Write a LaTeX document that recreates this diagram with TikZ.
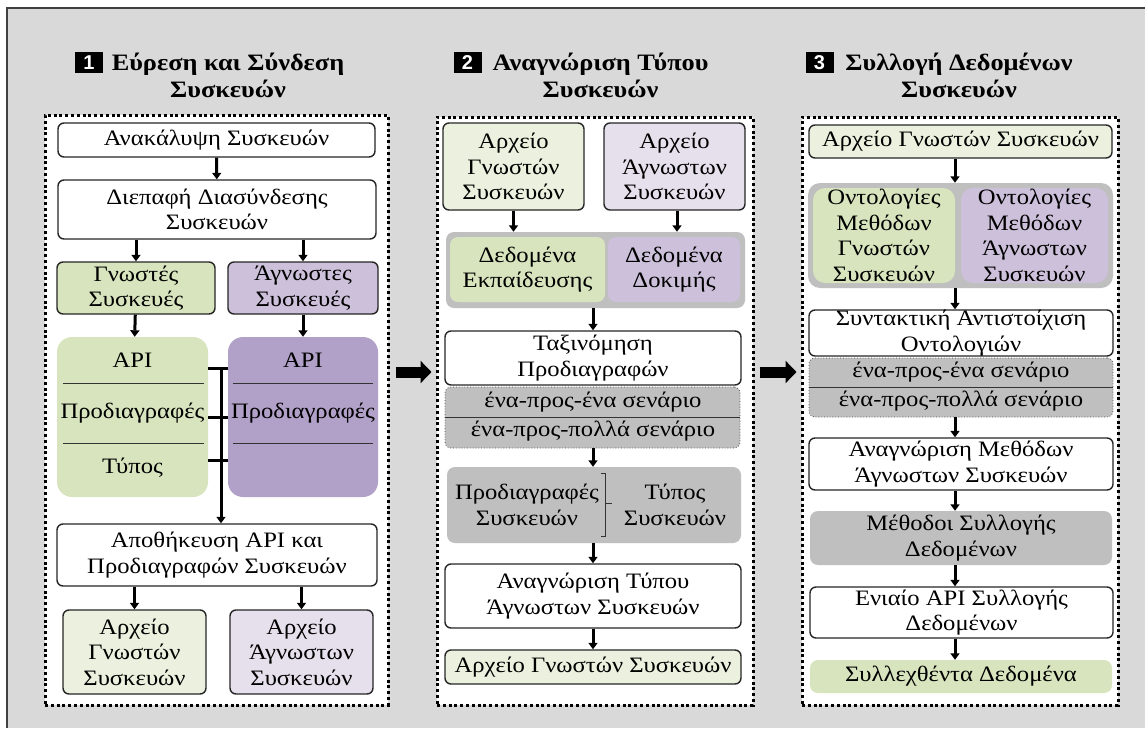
\documentclass[tikz,border=0pt]{standalone}
\usepackage{fontspec}
\setmainfont{Liberation Serif}[FakeStretch=1.12]
\newfontfamily\numfont{Liberation Sans}
\usetikzlibrary{arrows.meta}
\definecolor{bgray}{HTML}{D9D9D9}
\definecolor{kgreen}{HTML}{D7E4BD}
\definecolor{upurple}{HTML}{CCC0DA}
\definecolor{dpurple}{HTML}{B1A0C7}
\definecolor{lgreen}{HTML}{EBF1DE}
\definecolor{lpurple}{HTML}{E6E0EC}
\definecolor{mgray}{HTML}{BFBFBF}
\definecolor{edge}{HTML}{262626}
\newcommand\bodyfont{\fontsize{22}{25.5}\selectfont}
\newcommand\titlefont{\fontsize{23.5}{27}\selectfont\bfseries}
\tikzset{
  sz/.style 2 args={minimum width=#1, minimum height=#2},
  txt/.style={align=center, inner sep=0pt, font=\bodyfont, text=black},
  box/.style={txt, draw=edge, line width=1.4pt, rounded corners=6pt, fill=white},
  kbox/.style={box, fill=kgreen},
  ubox/.style={box, fill=upurple},
  kfile/.style={box, fill=lgreen},
  ufile/.style={box, fill=lpurple},
  blob/.style={txt, rounded corners=15pt, draw=none},
  soft/.style={txt, rounded corners=8pt, draw=none},
  scen/.style={txt, fill=mgray, draw=black!70, line width=0.8pt, dotted, rounded corners=6pt},
  frame/.style={draw=black, fill=white, line width=3pt, dash pattern=on 3pt off 2.8pt},
  arr/.style={line width=3pt, draw=black, -{Triangle[width=9pt,length=6.5pt]}},
  bigarr/.style={line width=11pt, draw=black, -{Triangle[width=22pt,length=11pt]}},
  sep/.style={line width=0.9pt, draw=black!80},
  brk/.style={line width=3pt, draw=black},
  thinbrk/.style={line width=0.9pt, draw=black!80},
  title/.style={align=center, inner sep=0pt, font=\titlefont, text=black},
  num/.style={fill=black, text=white, inner sep=0pt, minimum width=28pt, minimum height=21pt, font=\numfont\fontsize{20}{21}\selectfont\bfseries}
}
\begin{document}
\begin{tikzpicture}[x=1pt, y=-1pt]
\useasboundingbox (0,0) rectangle (1145,728);
\fill[white] (0,0) rectangle (1145,728);
\fill[bgray] (7,8) rectangle (1145,728);
\draw[line width=1.6pt, black!75] (7,728) -- (7,8) -- (1145,8);

% ---------- column frames ----------
\node[frame, sz={343pt}{590pt}] (frame1) at (216.5,410) {};
\node[frame, sz={316pt}{588pt}] (frame2) at (595,411) {};
\node[frame, sz={316pt}{588pt}] (frame3) at (960,411) {};

% ---------- titles ----------
\node[title] (t1) at (228,75) {Εύρεση και Σύνδεση\\Συσκευών};
\node[num] (n1) at (89,62.5) {1};
\node[title] (t2) at (600.5,75) {Αναγνώριση Τύπου\\Συσκευών};
\node[num] (n2) at (467.5,62.5) {2};
\node[title] (t3) at (959,75) {Συλλογή Δεδομένων\\Συσκευών};
\node[num] (n3) at (819.5,62.5) {3};

% ---------- column 1: discovery and connection ----------
\node[box, sz={317pt}{34pt}] (disc) at (216.5,140) {Ανακάλυψη Συσκευών};
\node[box, sz={318pt}{59pt}] (iface) at (217,209.5) {Διεπαφή Διασύνδεσης\\Συσκευών};
\node[kbox, sz={158pt}{52pt}] (known) at (136,288) {Γνωστές\\Συσκευές};
\node[ubox, sz={150pt}{52pt}] (unknown) at (303,288) {Άγνωστες\\Συσκευές};
\node[blob, fill=kgreen, sz={151pt}{160pt}] (apiK) at (132.5,417) {};
\node[blob, fill=dpurple, sz={150pt}{160pt}] (apiU) at (303,417) {};
\node[txt] (apiKa) at (132.5,360) {API};
\node[txt] (apiKs) at (132.5,413) {Προδιαγραφές};
\node[txt] (apiKt) at (132.5,468) {Τύπος};
\node[txt] (apiUa) at (303,360) {API};
\node[txt] (apiUs) at (303,413) {Προδιαγραφές};
\draw[sep] (63,383) -- (204,383);
\draw[sep] (63,443) -- (204,443);
\draw[sep] (233,383) -- (373,383);
\draw[sep] (233,443) -- (373,443);
\node[box, sz={320pt}{62pt}] (store) at (217,555) {Αποθήκευση API και\\Προδιαγραφών Συσκευών};
\node[kfile, sz={143pt}{84pt}] (arcK) at (134.5,652) {Αρχείο\\Γνωστών\\Συσκευών};
\node[ufile, sz={143pt}{84pt}] (arcU) at (301.5,652) {Αρχείο\\Άγνωστων\\Συσκευών};

\draw[arr] (disc) -- (iface);
\draw[arr] (iface.south -| known) -- (known);
\draw[arr] (iface.south -| unknown) -- (unknown);
\draw[arr] (known) -- (apiK);
\draw[arr] (unknown) -- (apiU);
\draw[brk] (apiK.east |- 0,368) -- (apiU.west |- 0,368);
\draw[brk] (apiK.east |- 0,417) -- (apiU.west |- 0,417);
\draw[brk] (apiK.east |- 0,460) -- (apiU.west |- 0,460);
\draw[arr] (221,366.5) -- (store.north -| 221,0);
\draw[arr] (store.south -| arcK) -- (arcK);
\draw[arr] (store.south -| arcU) -- (arcU);

% ---------- column 2: device type recognition ----------
\node[kfile, sz={141pt}{87pt}] (arcK2) at (513.5,166.5) {Αρχείο\\Γνωστών\\Συσκευών};
\node[ufile, sz={141pt}{87pt}] (arcU2) at (674.5,166.5) {Αρχείο\\Άγνωστων\\Συσκευών};
\node[soft, fill=mgray, sz={299pt}{76pt}] (grp2) at (595.5,270) {};
\node[soft, fill=kgreen, sz={155pt}{65pt}] (train) at (527.5,269.5) {Δεδομένα\\Εκπαίδευσης};
\node[soft, fill=upurple, sz={132pt}{65pt}] (test) at (674,269.5) {Δεδομένα\\Δοκιμής};
\node[box, sz={296pt}{54pt}] (classify) at (593,358) {Ταξινόμηση\\Προδιαγραφών};
\node[scen, sz={295pt}{61pt}] (scen2) at (592.5,417.5) {};
\draw[sep] (scen2.west |- 0,417) -- (scen2.east |- 0,417);
\node[txt] (scen2a) at (593,402) {ένα-προς-ένα σενάριο};
\node[txt] (scen2b) at (593,431) {ένα-προς-πολλά σενάριο};
\node[soft, fill=mgray, sz={294pt}{76pt}] (spec2) at (594,505) {};
\node[txt] (spec2l) at (527,505) {Προδιαγραφές\\Συσκευών};
\node[txt] (spec2r) at (675,505) {Τύπος\\Συσκευών};
\draw[thinbrk] (601,473) -- (605,473) -- (605,536) -- (601,536);
\draw[thinbrk] (605,503) -- (612,503);
\node[box, sz={296pt}{64pt}] (recog) at (593,596) {Αναγνώριση Τύπου\\Άγνωστων Συσκευών};
\node[kfile, sz={296pt}{34pt}] (arcK3) at (593,667) {Αρχείο Γνωστών Συσκευών};

\draw[arr] (arcK2) -- (arcK2 |- grp2.north);
\draw[arr] (arcU2.south -| 677,0) -- (grp2.north -| 677,0);
\draw[arr] (grp2.south -| classify) -- (classify);
\draw[arr] (scen2.south -| classify) -- (spec2.north -| classify);
\draw[arr] (spec2.south -| recog) -- (recog);
\draw[arr] (recog) -- (arcK3);

% ---------- column 3: device data collection ----------
\node[kfile, sz={303pt}{33pt}] (arc3) at (960.5,141.5) {Αρχείο Γνωστών Συσκευών};
\node[soft, fill=mgray, rounded corners=12pt, sz={305pt}{105pt}] (grp3) at (960.5,235.5) {};
\node[soft, fill=kgreen, rounded corners=12pt, sz={142pt}{95pt}] (ontK) at (884,235.5) {Οντολογίες\\Μεθόδων\\Γνωστών\\Συσκευών};
\node[soft, fill=upurple, rounded corners=12pt, sz={147pt}{95pt}] (ontU) at (1034.5,235.5) {Οντολογίες\\Μεθόδων\\Άγνωστων\\Συσκευών};
\node[box, sz={304pt}{46pt}] (synt) at (961,333) {Συντακτική Αντιστοίχιση\\Οντολογιών};
\node[scen, sz={304pt}{59pt}] (scen3) at (961,387.5) {};
\draw[sep] (scen3.west |- 0,387) -- (scen3.east |- 0,387);
\node[txt] (scen3a) at (961,372) {ένα-προς-ένα σενάριο};
\node[txt] (scen3b) at (961,401) {ένα-προς-πολλά σενάριο};
\node[box, sz={304pt}{52pt}] (recm) at (961,464) {Αναγνώριση Μεθόδων\\Άγνωστων Συσκευών};
\node[soft, fill=mgray, sz={302pt}{54pt}] (meth) at (961,538) {Μέθοδοι Συλλογής\\Δεδομένων};
\node[box, sz={303pt}{51pt}] (uapi) at (961.5,612.5) {Ενιαίο API Συλλογής\\Δεδομένων};
\node[soft, fill=kgreen, sz={302pt}{33pt}] (coll) at (961,676.5) {Συλλεχθέντα Δεδομένα};

\draw[arr] (arc3.south -| 955,0) -- (grp3.north -| 955,0);
\draw[arr] (grp3.south -| 955,0) -- (synt.north -| 955,0);
\draw[arr] (scen3.south -| 955,0) -- (recm.north -| 955,0);
\draw[arr] (recm.south -| 955,0) -- (meth.north -| 955,0);
\draw[arr] (meth.south -| 955,0) -- (uapi.north -| 955,0);
\draw[arr] (uapi.south -| 955,0) -- (coll.north -| 955,0);

% ---------- flow between columns ----------
\draw[bigarr] ([shift={(6,-38)}]frame1.east) -- ([shift={(-4,-39)}]frame2.west);
\draw[bigarr] ([shift={(5,-39)}]frame2.east) -- ([shift={(-4,-39)}]frame3.west);
\end{tikzpicture}
\end{document}
